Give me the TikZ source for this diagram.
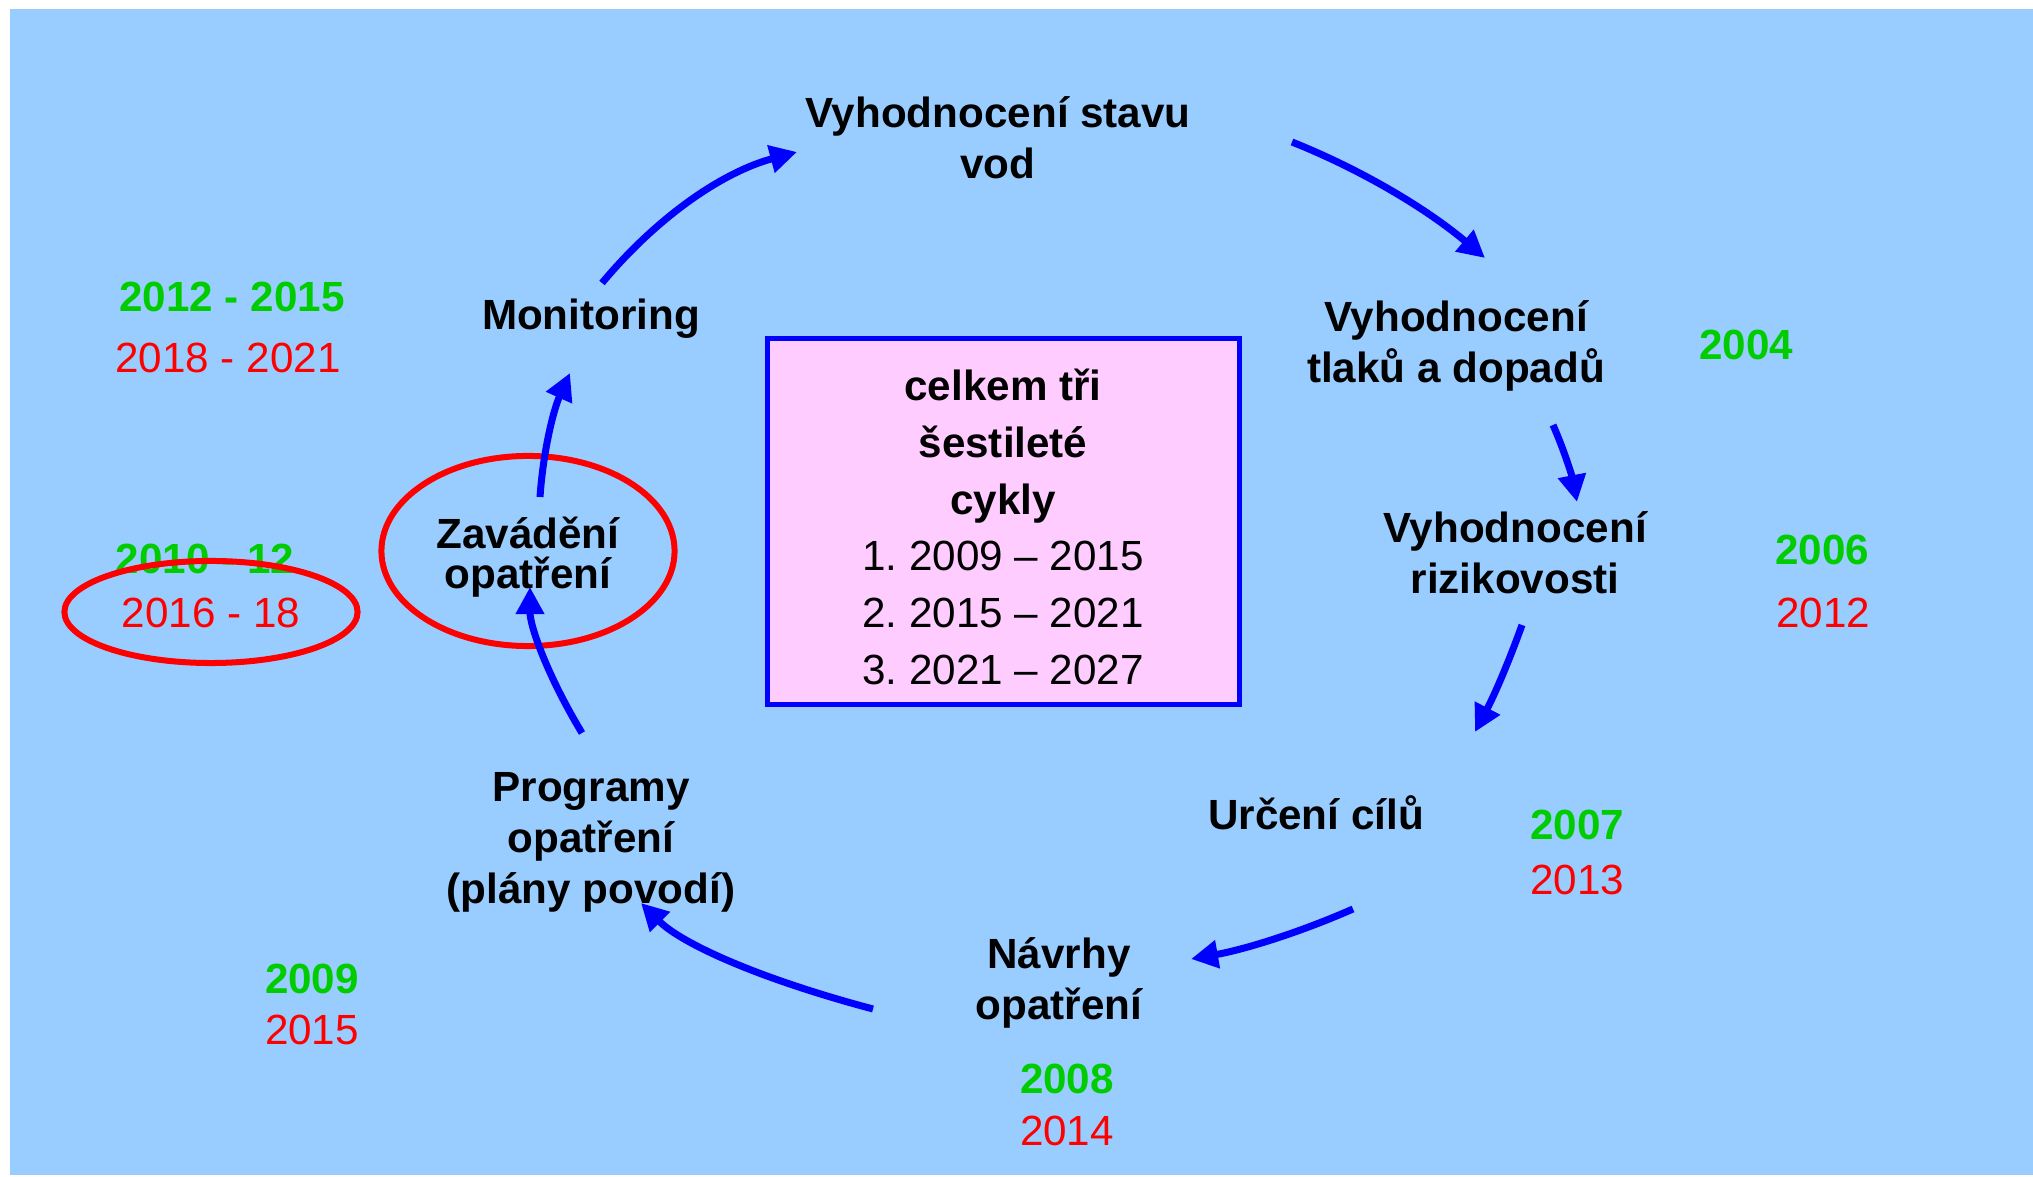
\documentclass[tikz,border=0pt]{standalone}
\usepackage{fontspec}
\setmainfont{Liberation Sans}
\usetikzlibrary{arrows.meta}

\definecolor{pozadi}{HTML}{99CCFF}
\definecolor{ruzova}{HTML}{FFCCFF}
\definecolor{zelena}{HTML}{00CC00}

\tikzset{
	krok/.style={font=\fontsize{12}{14.5}\selectfont\bfseries, align=center, inner sep=0pt},
	rokzeleny/.style={font=\fontsize{12}{14}\selectfont\bfseries, text=zelena, inner sep=0pt},
	rokcerveny/.style={font=\fontsize{12}{14}\selectfont, text=red, inner sep=0pt},
	souhrn/.style={draw=blue, line width=0.05cm, fill=ruzova, minimum width=4.71cm, minimum height=3.65cm, align=center, font=\fontsize{12}{16.1}\selectfont},
	sipka/.style={draw=blue, line width=0.07cm, -{Triangle[length=0.27cm, width=0.27cm]}},
	krouzek/.style={draw=red, line width=0.06cm}
}

\begin{document}
\frenchspacing
\begin{tikzpicture}[x=0.01cm, y=-0.01cm]
	\useasboundingbox (0, 0) rectangle (2033, 1177);
	\fill[pozadi] (10, 9) rectangle (2033, 1175);

	\node[krok] (stav) at (998, 138) {Vyhodnocení stavu\\vod};
	\node[krok] (tlaky) at (1456, 346) {Vyhodnocení\\tlaků a dopadů};
	\node[krok] (riziko) at (1515, 553) {Vyhodnocení\\rizikovosti};
	\node[krok] (cile) at (1316, 813) {Určení cílů};
	\node[krok] (navrhy) at (1059, 983) {Návrhy\\opatření};
	\node[krok] (programy) at (591, 842) {Programy\\opatření\\(plány povodí)};
	\node[krok, font=\fontsize{12}{11.4}\selectfont\bfseries] (zavadeni) at (528, 557) {Zavádění\\opatření};
	\node[krok] (monitoring) at (591, 319) {Monitoring};

	\draw[souhrn] (767, 339) rectangle (1239, 705);
	\node[align=center, font=\fontsize{12}{16.1}\selectfont, inner sep=0pt] (cykly) at (1003, 527) {\textbf{celkem tři}\\\textbf{šestileté}\\\textbf{cykly}\\1. 2009 – 2015\\2. 2015 – 2021\\3. 2021 – 2027};

	\node[rokzeleny] (r2004) at (1746, 345) {2004};
	\node[rokzeleny] (r2006) at (1822, 550) {2006};
	\node[rokcerveny] (r2012) at (1823, 613) {2012};
	\node[rokzeleny] (r2007) at (1577, 825) {2007};
	\node[rokcerveny] (r2013) at (1577, 880) {2013};
	\node[rokzeleny] (r2008) at (1067, 1079) {2008};
	\node[rokcerveny] (r2014) at (1067, 1131) {2014};
	\node[rokzeleny] (r2009) at (312, 979) {2009};
	\node[rokcerveny] (r2015) at (312, 1030) {2015};
	\node[rokzeleny] (r2010) at (205, 559) {2010 - 12};
	\node[rokcerveny] (r2016) at (211, 613) {2016 - 18};
	\node[rokzeleny] (r2012z) at (232, 297) {2012 - 2015};
	\node[rokcerveny] (r2018) at (228, 358) {2018 - 2021};

	\draw[krouzek] (528, 551) ellipse [x radius=1.465cm, y radius=0.95cm];
	\draw[krouzek] (211, 612) ellipse [x radius=1.465cm, y radius=0.51cm];

	\coordinate (mon-a) at (602, 283);
	\coordinate (mon-b) at (797, 152);
	\coordinate (stav-a) at (1292, 142);
	\coordinate (stav-b) at (1485, 258);
	\coordinate (tlaky-a) at (1553, 425);
	\coordinate (tlaky-b) at (1577, 502);
	\coordinate (riziko-a) at (1522, 625);
	\coordinate (riziko-b) at (1475, 732);
	\coordinate (cile-a) at (1353, 909);
	\coordinate (cile-b) at (1191, 959);
	\coordinate (navrhy-a) at (873, 1009);
	\coordinate (navrhy-b) at (641, 903);
	\coordinate (prog-a) at (582, 733);
	\coordinate (prog-b) at (530, 587);
	\coordinate (zav-a) at (540, 497);
	\coordinate (zav-b) at (570, 373);

	\draw[sipka] (mon-a) .. controls (658, 216) and (723, 172) .. (mon-b);
	\draw[sipka] (stav-a) .. controls (1362, 170) and (1427, 209) .. (stav-b);
	\draw[sipka] (tlaky-a) .. controls (1564, 450) and (1572, 476) .. (tlaky-b);
	\draw[sipka] (riziko-a) .. controls (1512, 653) and (1497, 690) .. (riziko-b);
	\draw[sipka] (cile-a) .. controls (1296, 934) and (1242, 950) .. (cile-b);
	\draw[sipka] (navrhy-a) .. controls (760, 979) and (682, 944) .. (navrhy-b);
	\draw[sipka] (prog-a) .. controls (547, 675) and (530, 626) .. (prog-b);
	\draw[sipka] (zav-a) .. controls (543, 453) and (553, 411) .. (zav-b);

\end{tikzpicture}
\end{document}
